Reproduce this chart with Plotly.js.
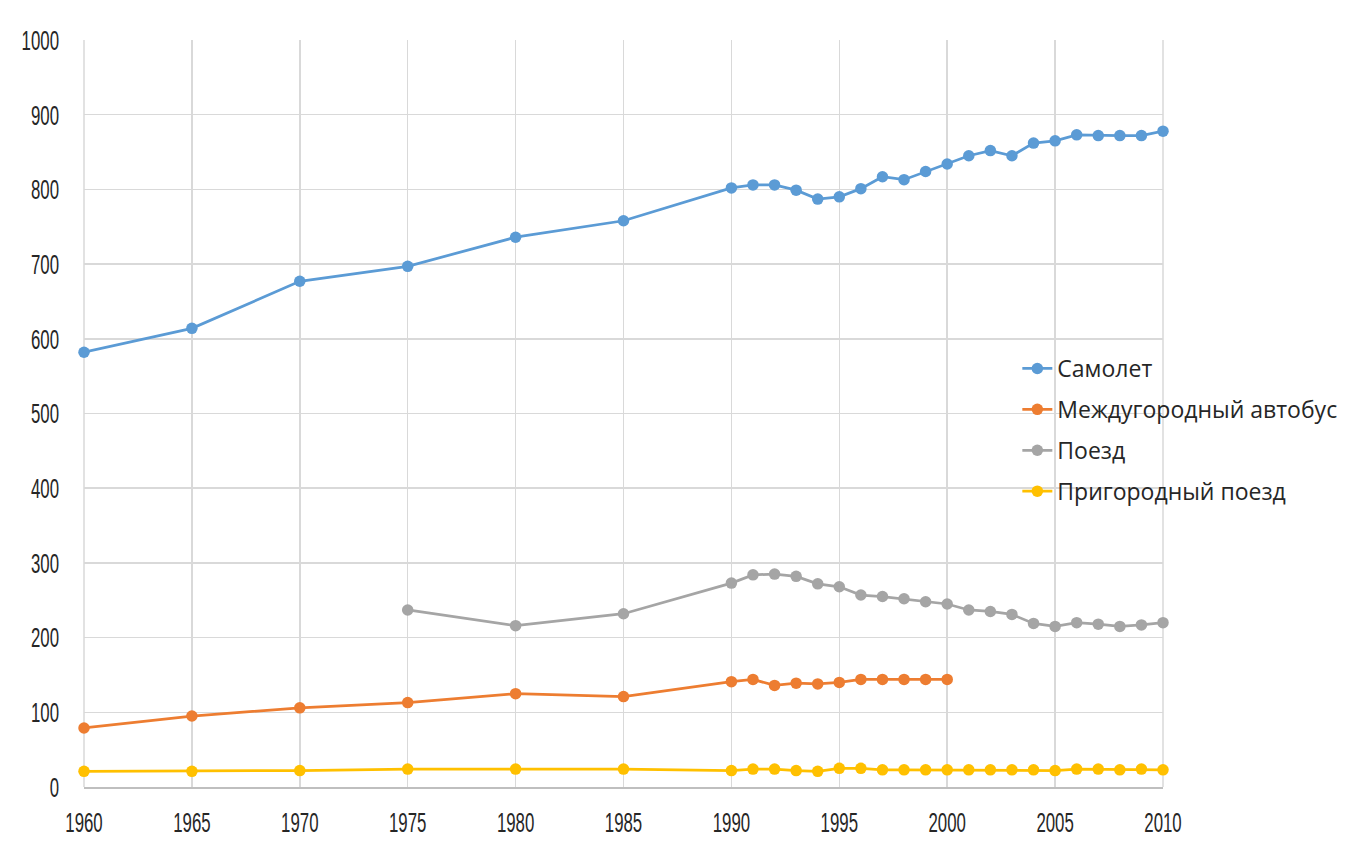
<!DOCTYPE html>
<html>
<head>
<meta charset="utf-8">
<script src="https://cdn.plot.ly/plotly-3.0.1.min.js"></script>
<style>
  html, body { margin: 0; padding: 0; background: #fff; }
  #chart { width: 1363px; height: 852px; }
</style>
</head>
<body>
<div id="chart"></div>
<script>
const years = [1960, 1965, 1970, 1975, 1980, 1985, 1990, 1991, 1992, 1993, 1994, 1995, 1996, 1997, 1998, 1999, 2000, 2001, 2002, 2003, 2004, 2005, 2006, 2007, 2008, 2009, 2010];

const seriesNames = ['Самолет', 'Междугородный автобус', 'Поезд', 'Пригородный поезд'];

const plane = [582, 614, 677, 697, 736, 758, 802, 806, 806, 799, 787, 790, 801, 817, 813, 824, 834, 845, 852, 845, 862, 865, 873, 872, 872, 872, 878];

const bus = [79, 95, 106, 113, 125, 121, 141, 144, 136, 139, 138, 140, 144, 144, 144, 144, 144, null, null, null, null, null, null, null, null, null, null];

const train = [null, null, null, 237, 216, 232, 273, 284, 285, 282, 272, 268, 257, 255, 252, 248, 245, 237, 235, 231, 219, 215, 220, 218, 215, 217, 220];

const commuter = [21, 21, 22, 24, 24, 24, 22, 24, 24, 22, 21, 25, 25, 23, 23, 23, 23, 23, 23, 23, 23, 22, 24, 24, 23, 24, 23];

const xTicks = [1960, 1965, 1970, 1975, 1980, 1985, 1990, 1995, 2000, 2005, 2010];
const yTicks = [0, 100, 200, 300, 400, 500, 600, 700, 800, 900, 1000];

const colors = ['#5b9bd5', '#ed7d31', '#a5a5a5', '#ffc000'];
const allData = [plane, bus, train, commuter];

const traces = allData.map((vals, i) => ({
  type: 'scatter',
  mode: 'lines+markers',
  x: years,
  y: vals,
  name: seriesNames[i],
  legendgroup: 'g' + i,
  connectgaps: false,
  cliponaxis: false,
  line: { color: colors[i], width: 2.75 },
  marker: { color: colors[i], size: 11.5 }
}));

const tickFont = { family: '"Liberation Sans", Arial, sans-serif', size: 28, color: '#262626' };

const layout = {
  width: 1363,
  height: 852,
  margin: { l: 84, r: 200, t: 40, b: 65 },
  paper_bgcolor: '#ffffff',
  plot_bgcolor: '#ffffff',
  showlegend: true,
  legend: {
    x: 0.865,
    xanchor: 'left',
    y: 0.589,
    yanchor: 'top',
    bgcolor: 'rgba(0,0,0,0)',
    tracegroupgap: 8,
    font: { family: '"Open Sans", "Noto Sans", sans-serif', size: 23, color: '#262626' }
  },
  xaxis: {
    range: [1960, 2010],
    tickvals: xTicks,
    ticktext: xTicks.map(String),
    showgrid: true,
    gridcolor: '#d9d9d9',
    gridwidth: 1.5,
    zeroline: false,
    showline: true,
    linecolor: '#bfbfbf',
    linewidth: 1.5,
    ticks: '',
    ticklabelstandoff: 10,
    tickfont: tickFont
  },
  yaxis: {
    range: [0, 1000],
    tickvals: yTicks,
    ticktext: yTicks.map(String),
    showgrid: true,
    gridcolor: '#d9d9d9',
    gridwidth: 1.5,
    zeroline: false,
    showline: false,
    ticks: '',
    ticklabelstandoff: 24,
    tickfont: tickFont
  },
  shapes: [
    { type: 'line', xref: 'paper', yref: 'paper', x0: 1, x1: 1, y0: 0, y1: 1, line: { color: '#d9d9d9', width: 1.5 }, layer: 'below' },
    { type: 'line', xref: 'paper', yref: 'paper', x0: 0, x1: 0, y0: 0, y1: 1, line: { color: '#d9d9d9', width: 1.5 }, layer: 'below' }
  ]
};

function condenseTicks() {
  document.querySelectorAll('#chart .xtick text, #chart .ytick text').forEach(t => {
    const w = t.getComputedTextLength();
    if (w > 0) {
      t.setAttribute('textLength', (w * 0.6).toFixed(1));
      t.setAttribute('lengthAdjust', 'spacingAndGlyphs');
    }
  });
}

Plotly.newPlot('chart', traces, layout, { displayModeBar: false, staticPlot: true }).then(condenseTicks);
</script>
</body>
</html>
